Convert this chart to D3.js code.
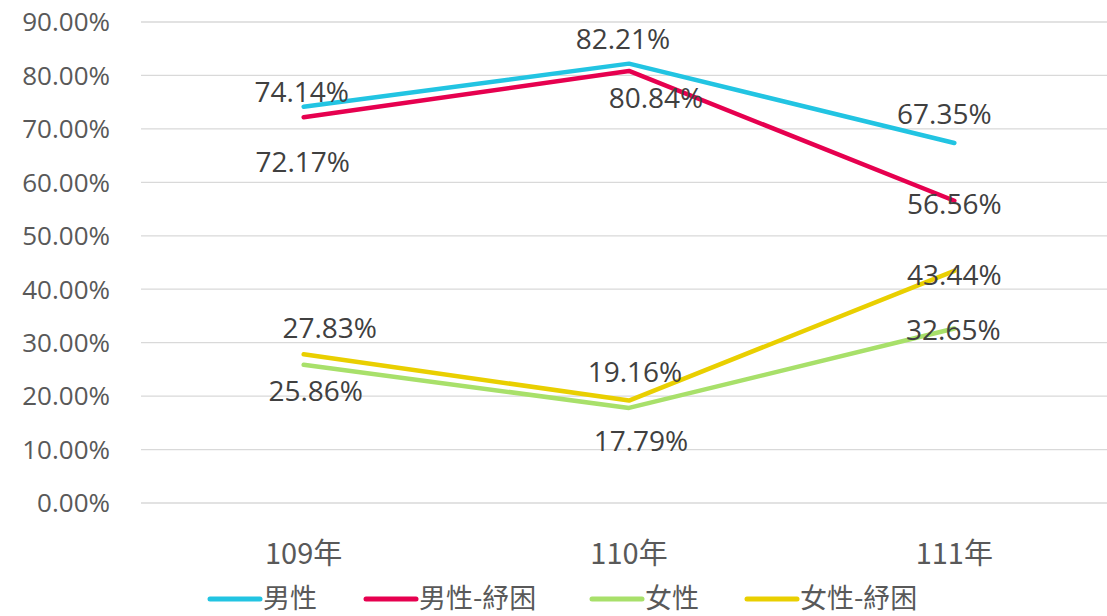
<!DOCTYPE html>
<html>
<head>
<meta charset="utf-8">
<script src="https://cdn.jsdelivr.net/npm/d3@7"></script>
<style>
  body { margin: 0; background: #fff; }
  svg { font-family: "Open Sans", "Noto Sans CJK TC", sans-serif; }
</style>
</head>
<body>
<svg id="chart" width="1107" height="616"></svg>
<script>
// data
const years = ["109年", "110年", "111年"];
const seriesNames = ["男性", "男性-紓困", "女性", "女性-紓困"];
const male = [74.14, 82.21, 67.35];
const maleRelief = [72.17, 80.84, 56.56];
const female = [25.86, 17.79, 32.65];
const femaleRelief = [27.83, 19.16, 43.44];
const yTicks = [0, 10, 20, 30, 40, 50, 60, 70, 80, 90];

const colors = ["#22C4E2", "#E6004F", "#A8E06A", "#E9CF00"];
// label offsets from each point (px), hand placed like the original
const labelOffsets = [
  [[-2, -15], [-6, -24], [-10, -29]],
  [[-1, 45], [27, 27], [0, 3]],
  [[12, 26], [12, 33], [-1, 2]],
  [[26, -26], [6, -28], [0, 4]]
];

const svg = d3.select("#chart");
const plotLeft = 141, plotRight = 1117, plotTop = 22, plotBottom = 503;

const x = d3.scaleBand().domain(years).range([plotLeft, plotRight]);
const y = d3.scaleLinear().domain([0, 90]).range([plotBottom, plotTop]);

// gridlines
svg.append("g").selectAll("line").data(yTicks).enter()
  .append("line")
  .attr("x1", plotLeft).attr("x2", plotRight)
  .attr("y1", d => y(d)).attr("y2", d => y(d))
  .attr("stroke", "#d9d9d9").attr("stroke-width", 1.3);

// y axis labels
svg.append("g").selectAll("text").data(yTicks).enter()
  .append("text")
  .attr("x", 110).attr("y", d => y(d))
  .attr("dy", "0.36em")
  .attr("text-anchor", "end")
  .attr("fill", "#595959")
  .style("font-size", "26px")
  .text(d => d.toFixed(2) + "%");

// x axis labels
svg.append("g").selectAll("text").data(years).enter()
  .append("text")
  .attr("x", d => x(d) + x.bandwidth() / 2)
  .attr("y", 554)
  .attr("dy", "0.35em")
  .attr("text-anchor", "middle")
  .attr("fill", "#595959")
  .style("font-family", "'Noto Sans CJK TC', sans-serif")
  .style("font-size", "29px")
  .text(d => d);

const allSeries = [male, maleRelief, female, femaleRelief];
const line = d3.line()
  .x((d, i) => x(years[i]) + x.bandwidth() / 2)
  .y(d => y(d));

allSeries.forEach(function(vals, s) {
  svg.append("path")
    .datum(vals)
    .attr("d", line)
    .attr("fill", "none")
    .attr("stroke", colors[s])
    .attr("stroke-width", 4.5)
    .attr("stroke-linecap", "round")
    .attr("stroke-linejoin", "round");
});

allSeries.forEach(function(vals, s) {
  svg.append("g").selectAll("text").data(vals).enter()
    .append("text")
    .attr("x", (d, i) => x(years[i]) + x.bandwidth() / 2 + labelOffsets[s][i][0])
    .attr("y", (d, i) => y(d) + labelOffsets[s][i][1])
    .attr("dy", "0.35em")
    .attr("text-anchor", "middle")
    .attr("fill", "#404040")
    .style("font-size", "28px")
    .text(d => d.toFixed(2) + "%");
});

// legend
const legendX = [208, 364, 590, 745];
const legend = svg.append("g").selectAll("g").data(seriesNames).enter()
  .append("g")
  .attr("transform", (d, i) => "translate(" + legendX[i] + ",599)");
legend.append("line")
  .attr("x1", 2).attr("x2", 52)
  .attr("stroke", (d, i) => colors[i])
  .attr("stroke-width", 5)
  .attr("stroke-linecap", "round");
legend.append("text")
  .attr("x", 55).attr("dy", "0.33em")
  .attr("fill", "#595959")
  .style("font-family", "'Noto Sans CJK TC', sans-serif")
  .style("font-size", "27px")
  .text(d => d);
</script>
</body>
</html>
